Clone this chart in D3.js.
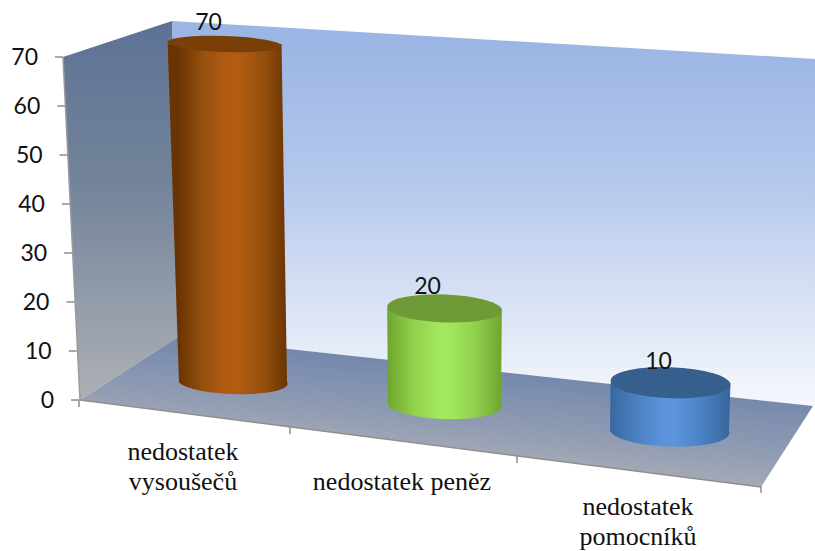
<!DOCTYPE html>
<html lang="cs">
<head>
<meta charset="utf-8">
<script src="https://cdn.jsdelivr.net/npm/d3@7"></script>
<style>
  html, body { margin: 0; padding: 0; background: #fff; }
  svg { display: block; }
</style>
</head>
<body>
<svg id="chart" width="815" height="551"></svg>
<script>
// Chart data
const categories = [["nedostatek", "vysoušečů"], ["nedostatek peněz"], ["nedostatek", "pomocníků"]];
const values = [70, 20, 10];
const yTicks = [0, 10, 20, 30, 40, 50, 60, 70];

// Cylinder colours: edge, mid, highlight, top cap
const bodyEdge = ["#6a3402", "#6fa62e", "#38679f"];
const bodyMid = ["#96500e", "#8fd04c", "#4b80c2"];
const bodyLight = ["#b25c12", "#a3e85c", "#5c94dc"];
const capFill = ["#7a3f07", "#6f9a38", "#375f8e"];

const svg = d3.select("#chart");
const defs = svg.append("defs");

// Projected corners of the 3-D box
const wallTopLeft = [63, 57], wallTopBack = [172, 21], wallFloorBack = [178, 337], origin = [80, 400];
const backTopRight = [815, 59], backFloorRight = [815, 406];
const floorFrontRight = [761, 487], floorBackRight = [813, 406];

// Value scales along the left edge of the side wall
const yScale = d3.scaleLinear().domain([0, 70]).range([400, 57]);
const yEdgeX = d3.scaleLinear().domain([0, 70]).range([79, 63]);

// Category positions along the floor, spaced with perspective
const baseX = d3.scaleLinear().domain([0, 1, 2]).range([233, 444.5, 669.5]);
const baseY = d3.scaleLinear().domain([0, 1, 2]).range([382, 405, 431]);
const baseRx = d3.scaleLinear().domain([0, 1, 2]).range([54, 56.5, 59.5]);
const baseRy = d3.scaleLinear().domain([0, 1, 2]).range([12, 14, 15.5]);

// Pixel height of a cylinder for a given value
const barHeight = d3.scaleLinear().domain([0, 70]).range([0, 338]);
// Sideways lean per unit of value, which fades out towards the right of the floor
const leanRate = d3.scaleLinear().domain([0, 1, 2]).range([-0.12, 0, 0.1]);
const topGrow = v => v * 0.042;
// Horizontal offset of the value label from the top of its cylinder
const labelDx = d3.scaleLinear().domain([0, 1, 2]).range([-16, -17, -12]);

function linearGradient(id, x1, y1, x2, y2, stops) {
  const g = defs.append("linearGradient").attr("id", id)
    .attr("gradientUnits", "userSpaceOnUse")
    .attr("x1", x1).attr("y1", y1).attr("x2", x2).attr("y2", y2);
  stops.forEach(([o, c]) => g.append("stop").attr("offset", o).attr("stop-color", c));
}

linearGradient("wallGrad", 120, 20, 120, 390, [[0, "#5c7295"], [0.45, "#74849a"], [1, "#abaeb4"]]);
linearGradient("backGrad", 500, 40, 500, 400, [[0, "#9bb5e4"], [0.4, "#b5c8ec"], [0.75, "#dbe4f5"], [1, "#f4f7fc"]]);
linearGradient("floorGrad", 500, 368, 490, 470, [[0, "#7387ac"], [0.5, "#8c99b2"], [1, "#aaadb6"]]);

const line = d3.line();
const polygon = pts => line(pts) + "Z";

svg.append("path").attr("d", polygon([wallTopBack, backTopRight, backFloorRight, floorBackRight, wallFloorBack])).attr("fill", "url(#backGrad)");
svg.append("path").attr("d", polygon([wallTopLeft, wallTopBack, wallFloorBack, origin])).attr("fill", "url(#wallGrad)");
svg.append("path").attr("d", polygon([origin, wallFloorBack, floorBackRight, floorFrontRight])).attr("fill", "url(#floorGrad)");

// Axis lines
svg.append("path").attr("d", line([wallTopLeft, origin])).attr("fill", "none").attr("stroke", "#9a9a9a").attr("stroke-width", 1.5);
svg.append("path").attr("d", line([origin, floorFrontRight])).attr("fill", "none").attr("stroke", "#8f8f8f").attr("stroke-width", 1.5);

// Y axis ticks and labels
const yAxis = svg.append("g").selectAll("g").data(yTicks).join("g");
yAxis.append("line")
  .attr("x1", d => yEdgeX(d) - 8).attr("x2", d => yEdgeX(d))
  .attr("y1", d => yScale(d)).attr("y2", d => yScale(d))
  .attr("stroke", "#8c8c8c").attr("stroke-width", 1.5);
yAxis.append("text")
  .attr("x", d => yEdgeX(d) - 25).attr("y", d => yScale(d) + 8)
  .attr("text-anchor", "end")
  .attr("font-family", "Lato, 'Open Sans', sans-serif").attr("font-size", 23).attr("fill", "#111")
  .text(d => d);

// Category separators on the front edge of the floor
const edgeX = d3.scaleLinear().domain([0, 1, 2, 3]).range([79, 290, 517, 761]);
const edgeY = d3.scaleLinear().domain([0, 1, 2, 3]).range([400, 427, 456, 486]);
svg.append("g").selectAll("line").data([0, 1, 2, 3]).join("line")
  .attr("x1", edgeX).attr("x2", edgeX)
  .attr("y1", edgeY).attr("y2", d => edgeY(d) + 7)
  .attr("stroke", "#8c8c8c").attr("stroke-width", 1.5);

// Category labels
const labelX = d3.scaleLinear().domain([0, 1, 2]).range([183, 402, 638]);
const labelY = d3.scaleLinear().domain([0, 1, 2]).range([460, 490, 515]);
svg.append("g").selectAll("text").data(categories).join("text")
  .attr("text-anchor", "middle")
  .attr("font-family", "'Liberation Serif', serif").attr("font-size", 26).attr("fill", "#111")
  .each(function (lines, i) {
    d3.select(this).selectAll("tspan").data(lines).join("tspan")
      .attr("x", labelX(i))
      .attr("y", (_, k) => labelY(i) + k * 30)
      .text(d => d);
  });

// Cylinders
values.forEach((v, i) => {
  const cx = baseX(i), cy = baseY(i), rx = baseRx(i), ry = baseRy(i);
  const tx = cx + v * leanRate(i), ty = cy - barHeight(v), trx = rx + topGrow(v), tilt = 2;
  const capRy = ry + (i === 0 ? -4 : 0);

  linearGradient("body" + i, cx - rx, 0, cx + rx, 0, [
    [0, bodyEdge[i]], [0.22, bodyMid[i]], [0.45, bodyLight[i]],
    [0.55, bodyLight[i]], [0.78, bodyMid[i]], [1, bodyEdge[i]]
  ]);

  svg.append("path")
    .attr("d", `M${tx - trx},${ty} L${cx - rx},${cy} A${rx},${ry} ${tilt} 0 0 ${cx + rx},${cy} L${tx + trx},${ty} Z`)
    .attr("fill", `url(#body${i})`);
  svg.append("ellipse")
    .attr("cx", tx).attr("cy", ty).attr("rx", trx).attr("ry", capRy)
    .attr("transform", `rotate(${tilt} ${tx} ${ty})`)
    .attr("fill", capFill[i]);

  svg.append("text")
    .attr("x", tx + labelDx(i)).attr("y", ty - 14)
    .attr("text-anchor", "middle")
    .attr("font-family", "Lato, 'Open Sans', sans-serif").attr("font-size", 23).attr("fill", "#111")
    .text(v);
});
</script>
</body>
</html>
